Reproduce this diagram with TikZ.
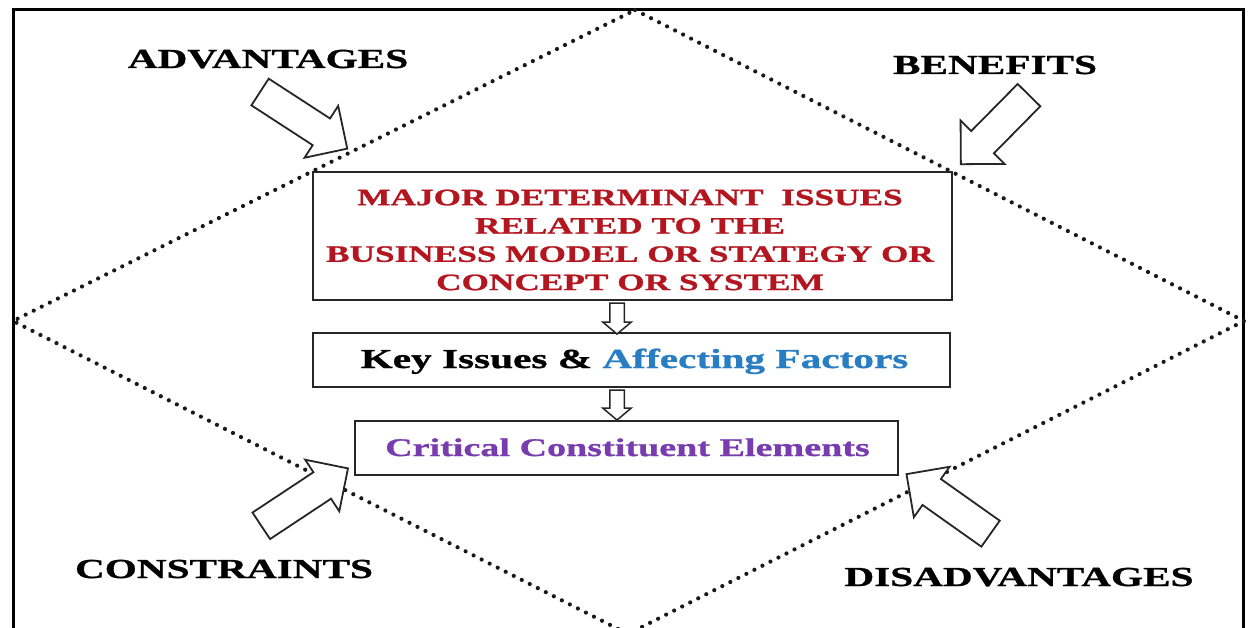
\documentclass[tikz,border=0pt]{standalone}
\usepackage{fontspec}
\setmainfont{Liberation Serif}[FakeStretch=1.5, BoldFeatures={FakeBold=1}]
\usetikzlibrary{shapes.arrows}
\definecolor{issuered}{RGB}{180,22,32}
\definecolor{factorblue}{RGB}{40,125,195}
\definecolor{critpurple}{RGB}{120,60,175}
\begin{document}
\begin{tikzpicture}[x=1pt,y=-1pt,
  cornerlabel/.style={font=\bfseries\fontsize{27.5}{33}\selectfont, anchor=base, inner sep=0pt},
  blockbox/.style={draw=black!85, line width=2pt, fill=white, inner sep=0pt},
  bigarrow/.style={single arrow, draw=black!85, line width=1.8pt, fill=white,
    inner sep=0pt, text height=15pt, text depth=15pt, minimum width=60pt,
    single arrow head extend=15pt, single arrow tip angle=90},
  downarrow/.style={single arrow, draw=black!85, line width=1.5pt, fill=white,
    inner sep=0pt, text height=6.5pt, text depth=6.5pt, minimum width=27pt,
    single arrow head extend=7pt, single arrow tip angle=100, rotate=-90},
  dotline/.style={black!90, line width=4.2pt, line cap=round, dash pattern=on 0pt off 9pt}
]
\useasboundingbox (0,0) rectangle (1248,628);

% outer frame (open at the bottom)
\coordinate (fbl) at (13,640);
\coordinate (ftl) at (13,10);
\coordinate (ftr) at (1243,10);
\coordinate (fbr) at (1243,640);
\draw[line width=3pt] (fbl) -- (ftl) -- (ftr) -- (fbr);

% dotted diamond
\coordinate (dtop) at (635,10);
\coordinate (dright) at (1244,321);
\coordinate (dbottom) at (628,634);
\coordinate (dleft) at (13,321);
\draw[dotline] (dtop) -- (dright) -- (dbottom) -- (dleft) -- cycle;

% central boxes
\node[blockbox, minimum width=639pt, minimum height=128pt] (major) at (632.5,236) {};
\node[font=\bfseries\fontsize{23.5}{28.3}\selectfont, text=issuered, align=center, inner sep=0pt]
  (majortext) at (630,240)
  {MAJOR DETERMINANT\ \ ISSUES\\RELATED TO THE\\BUSINESS MODEL OR STATEGY OR\\CONCEPT OR SYSTEM};

\node[blockbox, minimum width=637pt, minimum height=54pt] (key) at (631.5,360) {};
\node[font=\bfseries\fontsize{27.5}{33}\selectfont, anchor=base, inner sep=0pt]
  (keytext) at (634.5,368) {Key Issues \& \textcolor{factorblue}{Affecting Factors}};

\node[blockbox, minimum width=543pt, minimum height=54pt] (crit) at (626.5,448) {};
\node[font=\bfseries\fontsize{25.4}{30}\selectfont, text=critpurple, anchor=base, inner sep=0pt]
  (crittext) at (627.5,456) {Critical Constituent Elements};

% hollow arrows between the boxes
\node[downarrow, minimum height=31pt] (down1) at (617,315.5) {};
\node[downarrow, minimum height=30pt] (down2) at (617,402) {};

% block arrows from the corners
\node[bigarrow, minimum height=104pt, rotate=-33] (advarrow) at (297,116) {};
\node[bigarrow, minimum height=97pt, rotate=-134.6] (benarrow) at (1000.5,124) {};
\node[bigarrow, minimum height=104pt, rotate=33.5] (conarrow) at (298,501.5) {};
\node[bigarrow, minimum height=103pt, rotate=144.7] (disarrow) at (955,508.5) {};

% corner labels
\node[cornerlabel] (adv) at (268,68) {ADVANTAGES};
\node[cornerlabel] (ben) at (995,74) {BENEFITS};
\node[cornerlabel] (con) at (224,578) {CONSTRAINTS};
\node[cornerlabel] (dis) at (1019,586) {DISADVANTAGES};
\end{tikzpicture}
\end{document}
